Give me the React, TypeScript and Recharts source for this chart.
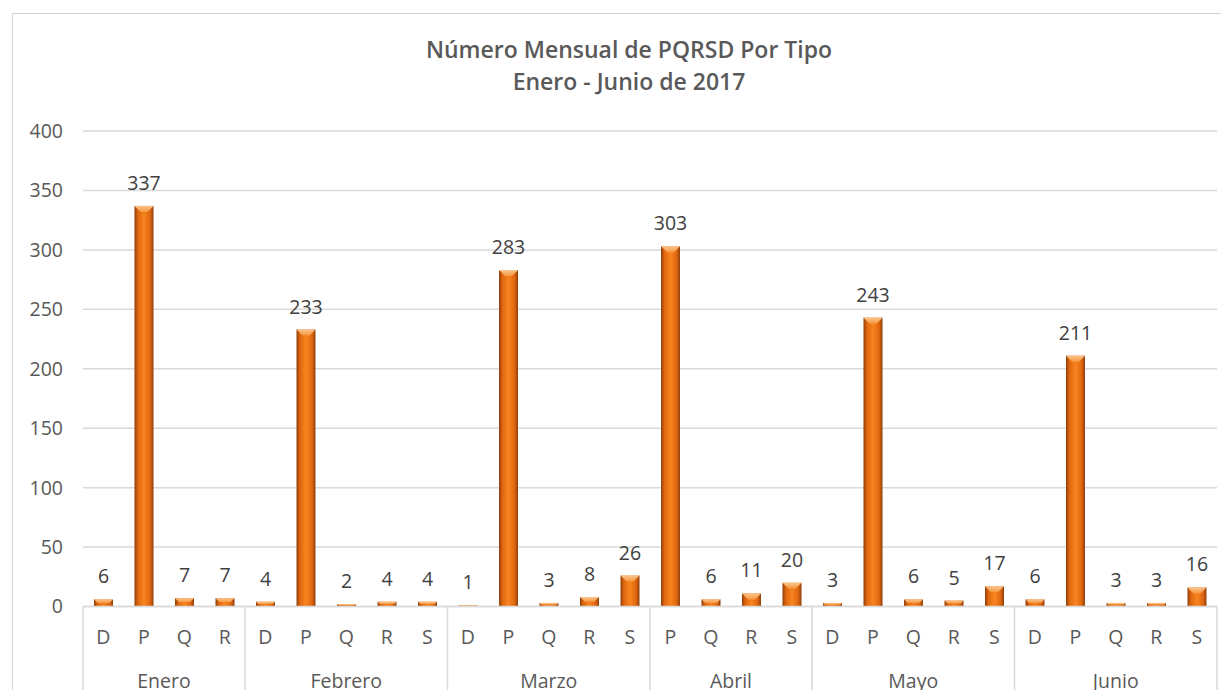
import React from "react";
import {
  BarChart,
  Bar,
  XAxis,
  YAxis,
  CartesianGrid,
  LabelList,
} from "recharts";

const meses = ["Enero", "Febrero", "Marzo", "Abril", "Mayo", "Junio"];

const tiposEnero = ["D", "P", "Q", "R"];
const tiposFebrero = ["D", "P", "Q", "R", "S"];
const tiposMarzo = ["D", "P", "Q", "R", "S"];
const tiposAbril = ["P", "Q", "R", "S"];
const tiposMayo = ["D", "P", "Q", "R", "S"];
const tiposJunio = ["D", "P", "Q", "R", "S"];

const valoresEnero = [6, 337, 7, 7];
const valoresFebrero = [4, 233, 2, 4, 4];
const valoresMarzo = [1, 283, 3, 8, 26];
const valoresAbril = [303, 6, 11, 20];
const valoresMayo = [3, 243, 6, 5, 17];
const valoresJunio = [6, 211, 3, 3, 16];

const yTicks = [0, 50, 100, 150, 200, 250, 300, 350, 400];

const tiposPorMes = [tiposEnero, tiposFebrero, tiposMarzo, tiposAbril, tiposMayo, tiposJunio];
const valoresPorMes = [valoresEnero, valoresFebrero, valoresMarzo, valoresAbril, valoresMayo, valoresJunio];

type Row = { key: string; mes: string; tipo: string; valor: number; first: boolean; n: number };

const data: Row[] = meses.flatMap((mes, m) =>
  tiposPorMes[m].map((tipo, i) => ({
    key: `${mes}-${tipo}`,
    mes,
    tipo,
    valor: valoresPorMes[m][i],
    first: i === 0,
    n: tiposPorMes[m].length,
  }))
);

// layout
const CHART_W = 1221;
const CHART_H = 690;
const Y_AXIS_W = 75;
const MARGIN = { top: 123, right: 12, left: 0, bottom: 0 };
const X_AXIS_H = 91.5;
const BAND = (CHART_W - MARGIN.left - MARGIN.right - Y_AXIS_W) / data.length;

const FONT = "'Open Sans', 'Liberation Sans', sans-serif";
const GRID = "#d9d9d9";
const TEXT = "#595959";
const FS = 19.5;

const CategoryTick = (props: any) => {
  const { x, y, payload } = props;
  const row = data[payload.index];
  if (!row) return null;
  const isLast = payload.index === data.length - 1;
  return (
    <g>
      <text x={x} y={y + 37.5} textAnchor="middle" fill={TEXT} fontSize={FS} fontFamily={FONT}>
        {row.tipo}
      </text>
      {row.first && (
        <>
          <line x1={x - BAND / 2} x2={x - BAND / 2} y1={y} y2={y + 100} stroke={GRID} strokeWidth={1.5} />
          <text
            x={x + ((row.n - 1) / 2) * BAND}
            y={y + 81}
            textAnchor="middle"
            fill={TEXT}
            fontSize={FS}
            fontFamily={FONT}
          >
            {row.mes}
          </text>
        </>
      )}
      {isLast && (
        <line x1={x + BAND / 2} x2={x + BAND / 2} y1={y} y2={y + 100} stroke={GRID} strokeWidth={1.5} />
      )}
    </g>
  );
};

const BevelBar = (props: any) => {
  const { x, y, width, height } = props;
  if (!height || height <= 0) return null;
  const b = Math.min(6, height / 2, width / 2);
  return (
    <g>
      <rect x={x} y={y} width={width} height={height} fill="url(#barGrad)" />
      <polygon
        points={`${x},${y} ${x + width},${y} ${x + width - b},${y + b} ${x + b},${y + b}`}
        fill="url(#bevelGrad)"
      />
    </g>
  );
};

export default function App() {
  return (
    <div
      style={{
        position: "relative",
        width: CHART_W,
        height: CHART_H,
        marginBottom: -8,
        overflow: "hidden",
        background: "#fff",
      }}
    >
      <div
        style={{
          position: "absolute",
          left: 4,
          top: 5,
          width: 1400,
          height: 900,
          border: "1.5px solid #d4d4d4",
        }}
      />
      <div
        style={{
          position: "absolute",
          left: 0,
          width: 1242,
          top: 25,
          textAlign: "center",
          fontFamily: FONT,
          fontWeight: 600,
          fontSize: 23,
          lineHeight: "32px",
          color: TEXT,
        }}
      >
        <div>Número Mensual de PQRSD Por Tipo</div>
        <div>Enero - Junio de 2017</div>
      </div>
      <div style={{ position: "absolute", left: 0, top: 0 }}>
        <BarChart width={CHART_W} height={CHART_H} data={data} margin={MARGIN} barSize={19}>
          <defs>
            <linearGradient id="barGrad" x1="0" y1="0" x2="1" y2="0">
              <stop offset="0%" stopColor="#8f3f0c" />
              <stop offset="18%" stopColor="#e0660f" />
              <stop offset="50%" stopColor="#f7851f" />
              <stop offset="82%" stopColor="#e0660f" />
              <stop offset="100%" stopColor="#8f3f0c" />
            </linearGradient>
            <linearGradient id="bevelGrad" x1="0" y1="0" x2="0" y2="1">
              <stop offset="0%" stopColor="#fbc58e" />
              <stop offset="100%" stopColor="#f6963e" />
            </linearGradient>
          </defs>
          <CartesianGrid vertical={false} stroke={GRID} strokeWidth={1.5} />
          <XAxis
            dataKey="key"
            interval={0}
            height={X_AXIS_H}
            tickLine={false}
            tickSize={0}
            tickMargin={0}
            axisLine={{ stroke: GRID, strokeWidth: 1.5 }}
            tick={<CategoryTick />}
          />
          <YAxis
            width={Y_AXIS_W}
            domain={[0, 400]}
            ticks={yTicks}
            axisLine={false}
            tickLine={false}
            tickSize={0}
            tickMargin={20}
            tick={{ fill: TEXT, fontSize: FS, fontFamily: FONT }}
          />
          <Bar dataKey="valor" shape={<BevelBar />} isAnimationActive={false}>
            <LabelList
              dataKey="valor"
              position="top"
              offset={16}
              fill="#404040"
              fontSize={FS}
              fontFamily={FONT}
            />
          </Bar>
        </BarChart>
      </div>
    </div>
  );
}
